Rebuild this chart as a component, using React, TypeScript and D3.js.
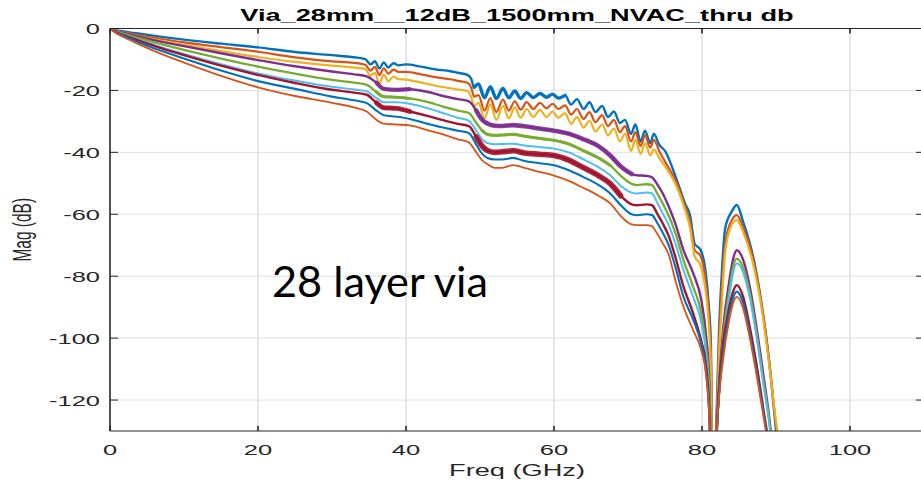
import React from "react";
import * as d3 from "d3";

// frequency grid (GHz) used by the three rippled traces on top
const freqTop = [
  0, 1, 2, 4, 7, 10, 15, 20, 25, 30,
  33, 34.5, 35.2, 35.8, 36.4, 37.0, 37.6, 38.3, 39, 40,
  42, 44, 46, 47, 48.3, 48.8, 49.2, 49.8, 50.6, 51.4,
  52.2, 53.1, 53.9, 54.7, 55.5, 56.3, 57.2, 58.1, 59.0, 59.8,
  60.6, 61.5, 62.3, 63.1, 64.0, 64.8, 65.6, 66.5, 67.3, 68.1,
  68.9, 69.6, 70.4, 71.0, 71.7, 72.3, 73.0, 73.5, 74.2, 75.0,
  76.6, 77.7, 78.4, 79.0, 79.8, 80.4, 80.9, 81.2, 81.5, 82.0,
  82.3, 82.7, 83.1, 83.5, 84.0, 84.7, 85.6, 86.9, 88.1, 89.0,
  89.9, 90.4,
];

const blue1 = [
  0, -0.6, -1.0, -1.7, -2.7, -3.6, -4.9, -6.1, -7.6, -8.6,
  -9.3, -9.9, -11.6, -10.6, -12.9, -11.0, -12.6, -11.2, -11.9, -11.6,
  -12.3, -13.2, -13.8, -14.3, -15.0, -16.2, -19.0, -17.9, -22.4, -18.8,
  -22.6, -19.4, -22.4, -20.2, -22.6, -20.7, -22.3, -21.0, -22.2, -21.2,
  -22.5, -21.6, -24.6, -22.8, -26.0, -23.8, -27.0, -25.0, -28.6, -26.8,
  -30.5, -29.5, -34.0, -31.0, -36.5, -33.0, -37.0, -34.0, -37.5, -39.5,
  -49.0, -56.5, -60.5, -69.5, -71.5, -77.0, -89.0, -102, -170, -122,
  -98, -78, -65, -61.5, -59.2, -57.0, -62.8, -73.6, -89.7, -105.8,
  -127.3, -140,
];

const orange1 = [
  0, -0.8, -1.3, -2.2, -3.4, -4.5, -6.0, -7.5, -9.3, -10.6,
  -11.1, -11.7, -13.6, -12.4, -15.0, -12.9, -14.6, -13.3, -14.0, -14.0,
  -14.8, -15.7, -16.4, -16.9, -17.5, -19.0, -22.0, -21.5, -26.5, -22.5,
  -27.0, -23.0, -26.5, -23.5, -26.2, -23.8, -26.0, -24.0, -25.8, -24.3,
  -26.0, -24.8, -27.8, -26.0, -29.2, -27.0, -30.3, -28.0, -31.5, -29.5,
  -33.5, -31.5, -36.5, -33.5, -38.0, -34.5, -38.5, -36.0, -39.5, -43.0,
  -50.0, -57.5, -62.5, -71.5, -73.5, -80.0, -92.0, -106, -170, -126,
  -102, -83, -70, -65, -62, -60.3, -64.5, -74.5, -90.0, -106,
  -126, -136,
];

const yellow1 = [
  0, -0.9, -1.5, -2.6, -4.0, -5.3, -7.3, -9.2, -10.8, -12.0,
  -12.6, -13.1, -15.2, -14.3, -17.8, -14.9, -17.0, -15.5, -16.4, -16.5,
  -17.4, -18.5, -19.3, -19.7, -20.2, -22.0, -25.0, -24.0, -29.0, -24.5,
  -29.5, -25.0, -29.0, -25.5, -28.8, -26.0, -28.6, -26.3, -28.6, -26.8,
  -28.8, -27.3, -30.8, -28.6, -32.0, -29.8, -33.3, -31.0, -34.5, -32.3,
  -36.5, -34.0, -39.5, -36.0, -40.5, -37.0, -41.0, -39.0, -41.8, -44.5,
  -51.2, -58.5, -64.5, -73.5, -76.5, -83.0, -95.0, -110, -170, -128,
  -106, -88, -73, -67, -63.5, -61.9, -66, -76, -91, -107,
  -125, -134,
];

// frequency grid (GHz) for the six smoother traces below
const freqLow = [
  0, 1, 2, 4, 7, 10, 15, 20, 25, 30,
  33, 34.7, 36, 37, 38.7, 40.5, 43, 45, 47, 48.5,
  49.5, 50.3, 51, 52, 53, 54.5, 56, 58, 60, 62,
  64, 66, 67.6, 69, 70.5, 71.2, 72.5, 73.2, 74, 74.7,
  75.5, 76.4, 77.5, 78.8, 79.9, 80.5, 81.0, 81.45, 82.0, 82.4,
  82.9, 83.6, 84.2, 84.7, 85.6, 86.5, 87.4, 88.3, 89, 89.6,
];

const purple = [
  0, -0.9, -1.5, -2.7, -4.3, -5.7, -8.0, -10.2, -12.2, -13.9,
  -14.8, -15.5, -17.5, -19.5, -19.8, -19.6, -20.5, -21.8, -22.8, -23.5,
  -26.5, -29.5, -30.7, -31.4, -31.5, -31.2, -31.6, -32.3, -33.0, -34.0,
  -35.8, -38.0, -41.0, -44.5, -47.0, -47.4, -47.6, -48.0, -50.5, -53.3,
  -57.5, -63.0, -71.6, -79.0, -87.7, -98.0, -115, -170, -130, -112,
  -96, -83, -74.5, -71.6, -75, -84, -97, -112, -124, -136,
];

const green = [
  0, -1.1, -1.8, -3.2, -5.1, -6.9, -9.7, -12.3, -14.6, -16.6,
  -17.5, -18.2, -20.5, -22.0, -22.2, -22.6, -23.8, -25.2, -26.5, -27.3,
  -30.5, -33.0, -34.2, -34.5, -34.4, -34.2, -34.8, -35.5, -36.1, -37.3,
  -39.5, -41.8, -44.2, -47.5, -50.2, -50.6, -50.3, -50.5, -53.5, -56.5,
  -60.5, -66, -74.8, -83.4, -92, -102, -118, -170, -130, -114,
  -99, -86, -77, -74.3, -77.5, -86, -99, -114, -125, -137,
];

const skyBlue = [
  0, -1.3, -2.2, -3.8, -6.1, -8.2, -11.5, -14.5, -16.8, -18.8,
  -19.7, -20.3, -22.5, -23.8, -23.8, -24.3, -25.8, -27.3, -28.8, -29.8,
  -33.0, -35.8, -37.0, -37.4, -37.3, -37.2, -37.8, -38.3, -38.8, -40.0,
  -42.3, -44.8, -47.4, -50.8, -53.0, -53.3, -53.0, -53.2, -56.5, -59.7,
  -63.5, -69.4, -78, -86.7, -95, -104, -120, -170, -130, -115,
  -101, -88, -79, -75.8, -79, -87.5, -100, -115, -126, -138,
];

const darkRed = [
  0, -1.4, -2.3, -4.0, -6.4, -8.6, -12.0, -15.0, -17.6, -19.8,
  -20.7, -21.4, -24.0, -25.6, -25.8, -26.8, -28.3, -29.6, -30.8, -31.5,
  -35.0, -38.0, -39.4, -40.0, -39.8, -39.5, -40.2, -40.6, -41.0, -42.5,
  -45.0, -47.5, -50.1, -54.0, -56.8, -57.1, -56.8, -57.0, -60.0, -63.0,
  -67, -73.8, -83.4, -92, -101, -108, -124, -170, -130, -113,
  -101, -91, -85, -82.9, -87, -97, -109, -123, -134, -146,
];

const blue2 = [
  0, -1.6, -2.6, -4.6, -7.3, -9.7, -13.6, -17.0, -19.5, -22.0,
  -23.2, -24.1, -26.5, -28.0, -28.5, -29.2, -30.8, -32.0, -33.0, -33.8,
  -37.5, -40.5, -41.8, -42.3, -42.3, -41.8, -42.8, -43.5, -44.2, -45.8,
  -48.0, -50.5, -53.3, -57.0, -60.0, -60.3, -60.0, -60.2, -63.0, -66,
  -70, -77, -86.7, -94, -102, -110, -126, -170, -130, -115,
  -104, -93.5, -87, -85, -89, -99, -111, -124, -135, -148,
];

const orange2 = [
  0, -1.8, -3.0, -5.2, -8.3, -11.0, -15.3, -19.0, -21.8, -24.0,
  -25.5, -26.8, -29.5, -30.7, -31.0, -31.3, -32.9, -34.2, -35.8, -36.8,
  -40.0, -42.6, -43.8, -45.0, -45.0, -44.1, -45.0, -46.3, -47.5, -49.2,
  -51.5, -54.0, -56.5, -60.5, -63.3, -63.5, -63.5, -63.8, -66.5, -69.4,
  -73, -81.3, -89.9, -97.4, -104, -111, -127, -170, -130, -116.6,
  -106, -95.1, -88.7, -86.7, -90.8, -100.5, -112.3, -125.2, -136, -148,
];

const xTicks = [0, 20, 40, 60, 80, 100];
const yTicks = [0, -20, -40, -60, -80, -100, -120];

// fuzz: stretches where a trace carries dense fine ripple, [from GHz, to GHz, stroke]
const series = [
  { f: freqTop, v: blue1, color: "#0072BD", w: 2.4, fuzz: [[49, 62, 3.4]] },
  { f: freqTop, v: orange1, color: "#D95319", w: 2.2, fuzz: [] },
  { f: freqTop, v: yellow1, color: "#EDB120", w: 2.2, fuzz: [] },
  { f: freqLow, v: purple, color: "#7E2F8E", w: 2.4, fuzz: [[35.5, 40.5, 4.2], [49.5, 71, 4.6]] },
  { f: freqLow, v: green, color: "#77AC30", w: 2.3, fuzz: [[36, 40.5, 3.2], [50, 68, 3.2]] },
  { f: freqLow, v: skyBlue, color: "#4DBEEE", w: 2.0, fuzz: [] },
  { f: freqLow, v: darkRed, color: "#A2142F", w: 2.4, fuzz: [[35.5, 40.5, 5], [49.5, 69, 5.6]] },
  { f: freqLow, v: blue2, color: "#0072BD", w: 2.1, fuzz: [] },
  { f: freqLow, v: orange2, color: "#D95319", w: 1.8, fuzz: [] },
];

const W = 921;
const H = 485;
const SX = 1.7; // the source picture is stretched sideways
const axisColor = "#262626";
const gridColor = "#e1e1e1";
const font = "'Liberation Sans', Arial, Helvetica, sans-serif";

export default function App() {
  const x = d3.scaleLinear().domain([0, 110]).range([110, 924]);
  const y = d3.scaleLinear().domain([-130, 0]).range([431, 28.5]);
  const [x0, x1] = x.range();
  const [yb, yt] = y.range();

  const line = d3
    .line<[number, number]>()
    .x(d => x(d[0]))
    .y(d => y(d[1]))
    .curve(d3.curveMonotoneX);

  const pts = (s: typeof series[number]) =>
    s.f.map((f, j) => [f, s.v[j]] as [number, number]);

  return (
    <div style={{ position: "absolute", left: 0, top: 0 }}>
      <svg width={W} height={H} style={{ display: "block", background: "#fff" }}>
        <defs>
          <clipPath id="plot">
            <rect x={x0} y={yt} width={x1 - x0} height={yb - yt} />
          </clipPath>
        </defs>

        {/* grid */}
        <g>
          {xTicks.slice(1).map(t => (
            <line key={"gx" + t} x1={x(t)} x2={x(t)} y1={yt} y2={yb}
              stroke={gridColor} strokeWidth={1.6} />
          ))}
          {yTicks.slice(1).map(t => (
            <line key={"gy" + t} x1={x0} x2={x1} y1={y(t)} y2={y(t)}
              stroke={gridColor} strokeWidth={1} />
          ))}
        </g>

        {/* traces */}
        <g clipPath="url(#plot)" fill="none" strokeLinejoin="round" strokeLinecap="round">
          {series.map((s, i) => (
            <g key={i}>
              <path d={line(pts(s)) || ""} stroke={s.color} strokeWidth={s.w} />
              {s.fuzz.map(([a, b, w], k) => (
                <path key={k}
                  d={line(pts(s).filter(p => p[0] >= a && p[0] <= b)) || ""}
                  stroke={s.color} strokeWidth={w} strokeOpacity={0.9} />
              ))}
            </g>
          ))}
        </g>

        {/* box and ticks */}
        <g stroke={axisColor} fill="none">
          <line x1={x0} x2={x1} y1={yt} y2={yt} strokeWidth={1.2} />
          <line x1={x0} x2={x1} y1={yb} y2={yb} strokeWidth={1.2} />
          <line x1={x0} x2={x0} y1={yt} y2={yb} strokeWidth={1.6} />
          <line x1={x1} x2={x1} y1={yt} y2={yb} strokeWidth={1.6} />
          {xTicks.map(t => (
            <g key={"tx" + t}>
              <line x1={x(t)} x2={x(t)} y1={yb} y2={yb - 5} strokeWidth={1.6} />
              <line x1={x(t)} x2={x(t)} y1={yt} y2={yt + 5} strokeWidth={1.6} />
            </g>
          ))}
          {yTicks.map(t => (
            <g key={"ty" + t}>
              <line x1={x0} x2={x0 + 8} y1={y(t)} y2={y(t)} strokeWidth={1} />
              <line x1={x1} x2={x1 - 8} y1={y(t)} y2={y(t)} strokeWidth={1} />
            </g>
          ))}
        </g>

        {/* tick labels */}
        <g fill={axisColor} fontFamily={font} fontSize={15}>
          {xTicks.map(t => (
            <text key={"lx" + t} textAnchor="middle"
              transform={`translate(${x(t)},${455}) scale(${SX},1)`}>
              {t}
            </text>
          ))}
          {yTicks.map(t => (
            <text key={"ly" + t} textAnchor="end"
              transform={`translate(${x0 - 10},${y(t) + 5.5}) scale(${SX},1)`}>
              {t}
            </text>
          ))}
        </g>

        {/* labels */}
        <text fontFamily={font} fontSize={16} fill={axisColor} textAnchor="middle"
          transform={`translate(${(x0 + x1) / 2},${476}) scale(${SX},1)`}>
          Freq (GHz)
        </text>
        <text fontFamily={font} fontSize={15.5} fill={axisColor} textAnchor="middle"
          transform={`translate(${31},${(yt + yb) / 2}) scale(${SX},1) rotate(-90)`}>
          Mag (dB)
        </text>
        <text fontFamily={font} fontSize={16} fontWeight="bold" fill="#000" textAnchor="middle"
          transform={`translate(${(x0 + x1) / 2},${20.5}) scale(${SX},1)`}>
          Via_28mm__12dB_1500mm_NVAC_thru db
        </text>

        <text x={272} y={297} fontFamily="Lato, 'Open Sans', sans-serif" fontSize={42}
          fill="#000" textLength={216} lengthAdjust="spacingAndGlyphs">
          28 layer via
        </text>
      </svg>
    </div>
  );
}
